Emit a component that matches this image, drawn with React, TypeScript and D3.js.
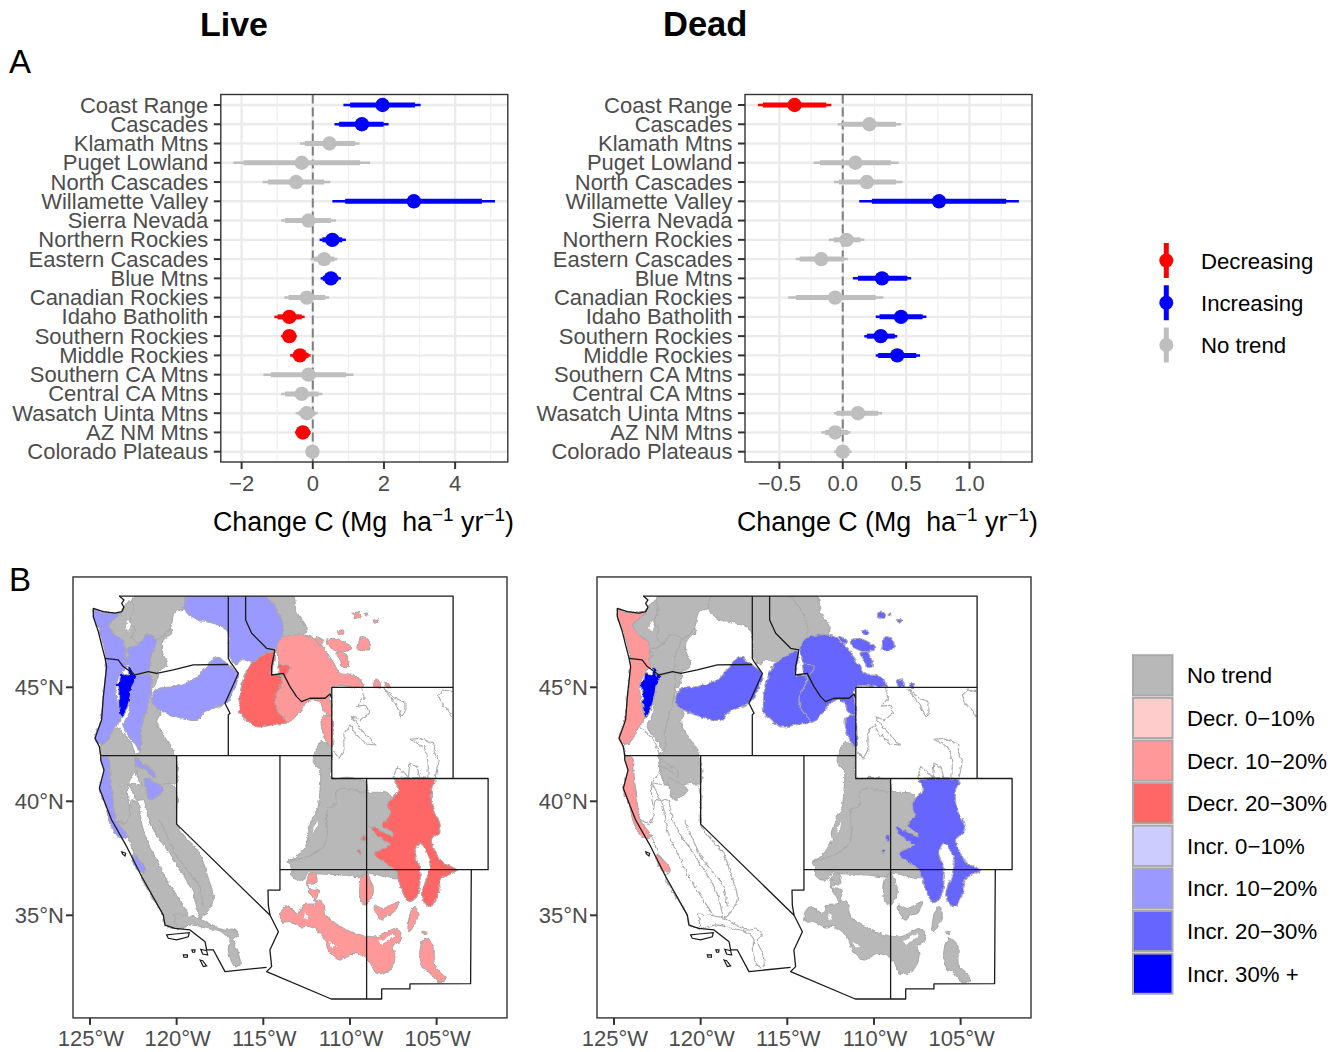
import * as d3 from "d3";

type Ring = [number, number][];
type Row = [number, number, number, number, number] | null;

const regionNames = ["Coast Range", "Cascades", "Klamath Mtns", "Puget Lowland", "North Cascades", "Willamette Valley", "Sierra Nevada", "Northern Rockies", "Eastern Cascades", "Blue Mtns", "Canadian Rockies", "Idaho Batholith", "Southern Rockies", "Middle Rockies", "Southern CA Mtns", "Central CA Mtns", "Wasatch Uinta Mtns", "AZ NM Mtns", "Colorado Plateaus"];

// outer low, inner low, mean, inner high, outer high
const liveRows: Row[] = [
  [0.86, 1.05, 1.96, 2.87, 3.03],
  [0.61, 0.74, 1.38, 1.99, 2.13],
  [-0.36, -0.22, 0.47, 1.19, 1.31],
  [-2.23, -1.95, -0.31, 1.33, 1.61],
  [-1.41, -1.26, -0.47, 0.32, 0.49],
  [0.55, 0.91, 2.84, 4.75, 5.12],
  [-0.89, -0.78, -0.12, 0.51, 0.65],
  [0.19, 0.27, 0.55, 0.83, 0.93],
  [-0.06, 0.04, 0.32, 0.61, 0.69],
  [0.22, 0.28, 0.51, 0.72, 0.79],
  [-0.8, -0.68, -0.17, 0.35, 0.46],
  [-1.08, -0.99, -0.66, -0.31, -0.23],
  [-0.89, -0.84, -0.66, -0.5, -0.45],
  [-0.64, -0.56, -0.36, -0.12, -0.06],
  [-1.39, -1.18, -0.12, 0.94, 1.14],
  [-0.89, -0.78, -0.31, 0.16, 0.27],
  [-0.48, -0.4, -0.17, 0.07, 0.14],
  [-0.5, -0.45, -0.28, -0.09, -0.06],
  [-0.19, -0.17, -0.01, 0.16, 0.18],
];
const liveTrends = ["inc", "inc", "none", "none", "none", "inc", "none", "inc", "none", "inc", "none", "dec", "dec", "dec", "none", "none", "none", "dec", "none"];

const deadRows: Row[] = [
  [-0.67, -0.63, -0.38, -0.13, -0.09],
  [-0.04, 0, 0.21, 0.42, 0.46],
  null,
  [-0.23, -0.18, 0.1, 0.38, 0.44],
  [-0.07, -0.03, 0.19, 0.42, 0.47],
  [0.13, 0.23, 0.76, 1.29, 1.39],
  null,
  [-0.11, -0.07, 0.03, 0.14, 0.17],
  [-0.37, -0.34, -0.17, 0.01, 0.04],
  [0.08, 0.12, 0.31, 0.51, 0.54],
  [-0.43, -0.37, -0.06, 0.26, 0.32],
  [0.26, 0.29, 0.46, 0.63, 0.66],
  [0.17, 0.19, 0.3, 0.41, 0.43],
  [0.26, 0.28, 0.43, 0.58, 0.61],
  null,
  null,
  [-0.07, -0.05, 0.12, 0.28, 0.31],
  [-0.17, -0.14, -0.06, 0.04, 0.06],
  [-0.07, -0.05, 0, 0.05, 0.07],
];
const deadTrends = ["dec", "none", "none", "none", "none", "inc", "none", "none", "none", "inc", "none", "inc", "inc", "inc", "none", "none", "none", "none", "none"];

const trendColors: Record<string, string> = { dec: "#ff0000", inc: "#0000ff", none: "#bebebe" };
const trendLegend = [["dec", "Decreasing"], ["inc", "Increasing"], ["none", "No trend"]];

const classColors: Record<string, string> = {
  none: "#b8b8b8", d10: "#ffcccc", d20: "#ff9999", d30: "#ff6666",
  i10: "#ccccff", i20: "#9999ff", i30: "#6666ff", i40: "#0000ff", blank: "#ffffff",
};
const classLegend = [["none", "No trend"], ["d10", "Decr. 0\u221210%"], ["d20", "Decr. 10\u221220%"], ["d30", "Decr. 20\u221230%"], ["i10", "Incr. 0\u221210%"], ["i20", "Incr. 10\u221220%"], ["i30", "Incr. 20\u221230%"], ["i40", "Incr. 30% +"]];

// ecoregion outlines, lon/lat
const coastRange: Ring[] = [
  [[-124.81, 48.42], [-124.13, 48.27], [-123.21, 48.25], [-123.65, 47.98], [-123.88, 47.73], [-123.5, 47.25], [-123.08, 47.05], [-122.96, 46.23], [-122.88, 45.91], [-123.17, 45.69], [-123.5, 45.03], [-123.31, 43.86], [-123.23, 43.57], [-123.56, 43.27], [-124.04, 42.62], [-124.33, 42.51], [-124.71, 42.76], [-124.42, 43.42], [-124.23, 44.59], [-124.08, 46.27], [-124.46, 47.44], [-124.81, 48.1]],
  [[-124.38, 41.93], [-123.94, 41.89], [-123.85, 41.08], [-123.69, 40.2], [-123.5, 39.18], [-122.83, 38.45], [-123.21, 38.37], [-123.85, 39.03], [-124.13, 39.91], [-124.46, 40.5], [-124.33, 40.93], [-124.19, 41.37]],
  [[-122.54, 37.65], [-122.25, 37.5], [-121.77, 36.99], [-122.06, 36.91], [-122.44, 37.2]],
];
const cascades: Ring[] = [
  [[-122.88, 46.64], [-122.21, 46.86], [-121.69, 47.3], [-121.15, 47.11], [-121.5, 46.32], [-121.63, 45.69], [-122.35, 45.54], [-122.65, 45.88], [-123.04, 46.17], [-122.73, 46.42]],
  [[-122.35, 45.5], [-121.54, 45.58], [-121.63, 44.3], [-122.02, 43.27], [-122.11, 42.18], [-122.4, 42.54], [-123.08, 43.27], [-122.79, 43.79], [-122.6, 45.1]],
  [[-122.4, 41.89], [-122.11, 41.74], [-121.31, 41.3], [-121.25, 41.01], [-121.77, 41.37], [-122.27, 41.52]],
  [[-121.83, 41.01], [-121.35, 40.86], [-120.77, 40.5], [-121.54, 40.06], [-121.77, 40.5]],
];
const klamath: Ring[] = [[[-123.56, 43.27], [-123.08, 42.98], [-122.6, 42.54], [-122.4, 42.03], [-122.35, 41.37], [-122.79, 40.79], [-122.83, 40.2], [-122.69, 39.18], [-122.98, 39.03], [-123.5, 39.18], [-123.69, 40.2], [-123.85, 41.08], [-123.94, 41.89], [-124.38, 42.03], [-124.33, 42.51], [-124.04, 42.62]]];
const pugetLowland: Ring[] = [[[-123.08, 48.51], [-122.6, 48.76], [-122.46, 48.39], [-122.69, 47.88], [-122.4, 47.51], [-122.6, 47.22], [-122.21, 46.86], [-122.88, 46.64], [-122.73, 46.42], [-123.04, 46.17], [-122.96, 46.23], [-123.08, 47.05], [-123.5, 47.25], [-123.88, 47.73], [-123.65, 47.98], [-123.21, 48.25]]];
const northCascades: Ring[] = [[[-122.35, 49.05], [-119.42, 49.05], [-119.58, 48.46], [-120.1, 48.32], [-120.38, 47.59], [-121.15, 47.11], [-121.69, 47.3], [-122.21, 46.86], [-122.6, 47.22], [-122.4, 47.51], [-122.69, 47.88], [-122.46, 48.39], [-122.6, 48.76]]];
const willamette: Ring[] = [[[-122.79, 45.88], [-122.54, 45.79], [-122.5, 45.54], [-122.31, 45.5], [-122.54, 45.1], [-122.75, 44.37], [-122.98, 43.86], [-123.17, 43.67], [-123.31, 43.93], [-123.35, 44.59], [-123.37, 45.0], [-123.56, 45.06], [-123.31, 45.25], [-123.17, 45.64], [-122.79, 45.54]]];
const sierraNevada: Ring[] = [[[-122.79, 40.79], [-121.96, 40.71], [-120.42, 40.79], [-120.0, 40.35], [-120.0, 38.96], [-119.52, 38.45], [-118.69, 37.72], [-118.27, 36.84], [-117.88, 35.82], [-117.98, 35.45], [-118.65, 34.87], [-118.75, 35.09], [-119.13, 36.11], [-120.29, 37.57], [-121.54, 39.03], [-121.92, 40.06], [-122.27, 40.06], [-122.69, 40.65]]];
const northernRockies: Ring[] = [[[-119.33, 49.05], [-115.0, 49.05], [-113.94, 47.95], [-113.85, 47.22], [-114.23, 46.71], [-115.0, 46.42], [-115.58, 46.08], [-116.25, 46.23], [-116.58, 45.98], [-116.92, 46.32], [-117.11, 47.51], [-118.27, 47.88], [-118.85, 47.95], [-119.52, 48.42]]];
const easternCascades: Ring[] = [
  [[-120.38, 47.59], [-120.29, 47.37], [-120.77, 47.08], [-120.87, 46.64], [-120.58, 45.98], [-121.06, 45.69], [-121.63, 45.69], [-121.5, 46.32], [-121.15, 47.11]],
  [[-121.54, 45.58], [-121.06, 45.61], [-121.25, 45.1], [-121.44, 44.88], [-121.44, 44.37], [-121.15, 44.08], [-120.96, 43.86], [-121.15, 43.49], [-120.77, 42.91], [-120.1, 42.03], [-120.0, 40.79], [-120.42, 40.79], [-121.96, 40.71], [-122.27, 41.08], [-122.35, 41.37], [-122.4, 42.03], [-122.11, 42.18], [-122.02, 43.27], [-121.63, 44.3]],
];
const blueMtns: Ring[] = [[[-121.25, 44.88], [-120.19, 45.03], [-118.94, 45.39], [-118.46, 45.76], [-117.73, 46.32], [-117.02, 45.98], [-116.54, 45.69], [-116.44, 45.54], [-116.92, 44.52], [-117.21, 44.3], [-118.46, 43.86], [-118.75, 43.57], [-119.33, 43.57], [-120.0, 43.71], [-120.58, 43.86], [-121.15, 44.08], [-121.44, 44.37]]];
const canadianRockies: Ring[] = [[[-114.96, 49.05], [-113.31, 49.05], [-113.08, 48.32], [-112.54, 47.66], [-112.65, 47.3], [-113.37, 47.15], [-113.94, 47.15], [-113.94, 47.95]]];
const idahoBatholith: Ring[] = [
  [[-116.25, 45.1], [-115.77, 45.98], [-115.0, 46.42], [-114.42, 46.61], [-114.42, 45.91], [-114.52, 45.54], [-114.04, 45.54], [-113.88, 45.32], [-114.33, 44.52], [-114.23, 44.08], [-113.65, 43.45], [-114.23, 43.39], [-115.38, 43.27], [-116.06, 43.64], [-116.35, 43.86]],
  [[-114.13, 45.98], [-113.46, 45.91], [-113.65, 45.61], [-114.04, 45.58]],
];
const southernRockies: Ring[] = [
  [[-107.4, 40.91], [-105.1, 40.91], [-105.29, 40.5], [-105.19, 39.62], [-104.81, 39.03], [-104.81, 38.67], [-105.29, 38.3], [-105.0, 37.72], [-104.61, 37.28], [-103.85, 36.99], [-104.81, 36.55], [-104.81, 36.11], [-105.38, 35.38], [-105.86, 35.82], [-105.48, 36.84], [-105.38, 37.43], [-105.96, 38.16], [-106.25, 37.72], [-105.96, 36.99], [-106.15, 35.82], [-106.63, 35.6], [-107.21, 36.55], [-107.4, 36.99], [-108.36, 37.5], [-108.56, 37.72], [-107.69, 38.08], [-107.98, 38.23], [-108.56, 38.6], [-108.75, 38.86], [-107.92, 38.6], [-107.5, 38.45], [-107.5, 38.6], [-108.11, 38.96], [-107.69, 39.33], [-107.79, 39.91], [-107.5, 40.2], [-107.15, 40.5]],
  [[-109.33, 38.45], [-109.13, 38.52], [-109.1, 38.3], [-109.27, 38.27]],
  [[-109.52, 37.87], [-109.33, 37.84], [-109.37, 37.72], [-109.52, 37.75]],
];
const middleRockies: Ring[] = [
  [[-113.94, 47.15], [-112.69, 47.3], [-112.12, 47.15], [-111.25, 46.42], [-110.87, 45.98], [-110.58, 45.61], [-109.81, 45.54], [-109.23, 45.03], [-111.06, 45.0], [-111.06, 43.71], [-111.54, 44.0], [-111.73, 44.37], [-112.4, 44.37], [-112.88, 43.93], [-113.65, 43.45], [-114.23, 44.08], [-114.33, 44.52], [-113.88, 45.32], [-114.04, 45.98], [-114.23, 46.71]],
  [[-109.81, 48.25], [-109.42, 48.27], [-109.33, 48.13], [-109.71, 48.03]],
  [[-109.19, 48.22], [-109.0, 48.25], [-109.04, 48.14]],
  [[-108.65, 47.95], [-108.37, 47.95], [-108.56, 47.81]],
  [[-110.73, 47.44], [-110.38, 47.51], [-110.38, 47.34], [-110.62, 47.34]],
  [[-112.02, 47.22], [-111.63, 47.11], [-111.54, 46.93], [-111.83, 46.9]],
  [[-111.31, 47.08], [-110.67, 47.11], [-109.9, 46.71], [-110.58, 46.56], [-111.31, 46.86]],
  [[-109.52, 46.86], [-109.33, 47.22], [-108.94, 47.08], [-108.85, 46.71], [-109.52, 46.64]],
  [[-110.81, 46.49], [-110.38, 46.56], [-110.1, 45.91], [-110.38, 45.88], [-110.58, 46.2]],
  [[-108.65, 45.25], [-108.37, 45.32], [-108.23, 45.03], [-108.56, 45.0]],
  [[-107.98, 45.2], [-107.79, 45.17], [-107.69, 45.0], [-107.88, 45.0]],
  [[-111.63, 43.64], [-111.15, 43.79], [-111.06, 42.4], [-111.44, 42.76], [-111.63, 43.2]],
];
const southernCA: Ring[] = [[[-120.19, 35.05], [-119.23, 34.97], [-118.65, 34.87], [-118.17, 34.65], [-117.31, 34.36], [-116.73, 34.39], [-116.44, 34.14], [-116.73, 33.92], [-116.44, 33.33], [-116.35, 32.82], [-116.63, 32.75], [-117.02, 33.48], [-116.92, 33.92], [-117.4, 34.28], [-118.27, 34.43], [-119.13, 34.58], [-120.0, 34.43], [-120.1, 34.94]]];
const centralCA: Ring[] = [[[-122.83, 38.45], [-122.4, 37.65], [-121.77, 36.99], [-122.02, 36.7], [-120.77, 35.01], [-120.67, 34.57], [-120.0, 34.43], [-120.1, 34.94], [-119.33, 34.94], [-119.9, 35.74], [-120.58, 36.55], [-121.15, 37.43], [-121.73, 38.3], [-122.02, 39.03], [-122.27, 39.98], [-122.6, 40.06], [-122.79, 39.18], [-122.98, 39.03], [-123.46, 39.15]]];
const wasatchUinta: Ring[] = [[[-111.63, 42.62], [-111.1, 42.32], [-111.06, 41.01], [-110.19, 41.05], [-109.13, 40.9], [-109.04, 40.42], [-110.38, 40.57], [-110.81, 40.42], [-110.77, 39.91], [-111.31, 39.62], [-111.35, 38.3], [-111.92, 37.79], [-113.27, 37.4], [-113.56, 37.35], [-113.17, 37.5], [-112.4, 38.3], [-112.46, 38.6], [-112.12, 39.33], [-111.88, 39.62], [-111.73, 40.5], [-111.73, 41.37], [-112.12, 41.74]]];
const azNmMtns: Ring[] = [
  [[-112.31, 36.84], [-112.02, 36.84], [-111.92, 36.42], [-112.4, 36.33], [-112.4, 36.18], [-111.83, 36.11], [-111.92, 35.67], [-111.54, 35.53], [-111.35, 34.94], [-110.67, 34.57], [-109.71, 34.21], [-108.46, 34.06], [-107.31, 34.43], [-107.02, 34.06], [-107.12, 33.84], [-107.5, 33.7], [-107.4, 33.18], [-107.69, 32.6], [-108.46, 32.46], [-108.94, 33.04], [-109.81, 33.33], [-110.58, 33.04], [-111.25, 33.48], [-111.54, 34.06], [-112.31, 34.5], [-112.88, 34.5], [-113.46, 34.72], [-113.94, 34.72], [-114.0, 35.09], [-113.65, 35.38], [-112.98, 35.09], [-112.69, 35.45], [-112.02, 35.53], [-112.21, 35.89], [-112.5, 36.33]],
  [[-109.33, 36.62], [-109.08, 36.84], [-108.65, 36.04], [-109.13, 35.45], [-109.42, 35.82]],
  [[-108.56, 35.45], [-108.08, 35.3], [-107.21, 35.6], [-107.5, 35.09], [-107.88, 35.01], [-108.17, 34.79], [-108.56, 35.16]],
  [[-106.25, 35.38], [-106.06, 35.09], [-106.35, 34.5], [-106.63, 34.28], [-106.54, 35.01]],
  [[-105.86, 34.28], [-105.62, 34.28], [-105.73, 34.14]],
  [[-105.67, 33.99], [-105.19, 33.7], [-105.1, 32.75], [-104.42, 32.24], [-104.81, 32.05], [-105.38, 32.46], [-105.86, 32.75], [-105.96, 33.48]],
];
const coloradoPlateaus: Ring[] = [[[-110.38, 40.57], [-109.13, 40.5], [-109.04, 40.42], [-107.88, 40.35], [-107.5, 40.06], [-107.6, 39.91], [-107.4, 39.33], [-107.3, 38.5], [-107.4, 38.1], [-108.3, 37.72], [-108.2, 37.5], [-107.4, 36.99], [-107.21, 36.62], [-109.04, 36.84], [-109.33, 36.7], [-110.38, 36.77], [-112.02, 36.84], [-112.4, 36.91], [-112.69, 36.55], [-113.36, 36.69], [-113.36, 37.06], [-113.56, 37.35], [-111.92, 37.79], [-111.35, 38.3], [-111.31, 39.62], [-110.81, 39.91], [-110.81, 40.42]]];

// ring, live class, dead class (order is paint order)
const mapRegions: [Ring[], string, string][] = [
  [coloradoPlateaus, "none", "none"],
  [wasatchUinta, "none", "none"],
  [klamath, "none", "blank"],
  [sierraNevada, "none", "blank"],
  [centralCA, "none", "blank"],
  [southernCA, "none", "blank"],
  [easternCascades, "none", "none"],
  [northCascades, "none", "none"],
  [pugetLowland, "none", "none"],
  [canadianRockies, "none", "none"],
  [northernRockies, "i20", "none"],
  [cascades, "i20", "none"],
  [coastRange, "i20", "d20"],
  [blueMtns, "i20", "i30"],
  [middleRockies, "d20", "i30"],
  [idahoBatholith, "d30", "i30"],
  [southernRockies, "d30", "i30"],
  [azNmMtns, "d20", "none"],
  [willamette, "i40", "i40"],
];

const waterHoles: Ring[] = [
  [[-122.79, 47.95], [-122.65, 47.73], [-122.79, 47.44], [-122.98, 47.59]],
  [[-111.83, 39.18], [-111.96, 38.81], [-112.15, 38.6], [-112.08, 38.88]],
  [[-112.6, 35.16], [-112.4, 34.79], [-112.65, 34.87]],
  [[-111.25, 33.84], [-110.77, 33.62], [-111.06, 33.59]],
  [[-108.37, 33.84], [-107.5, 34.21], [-107.4, 34.06], [-108.17, 33.73]],
];

// grey outlines with no fill in Wyoming and the Sierra
const greyLines: Ring[] = [
  [[-109.33, 44.96], [-109.19, 44.52], [-109.58, 44.18], [-109.08, 44.22], [-108.88, 43.86], [-109.42, 43.57], [-109.9, 43.71], [-109.42, 43.2], [-108.52, 42.47], [-109.04, 42.51], [-109.71, 42.98], [-110.0, 43.35], [-110.35, 42.98], [-110.35, 42.25], [-110.62, 41.89], [-110.96, 42.18]],
  [[-108.08, 44.96], [-107.4, 44.52], [-106.83, 44.37], [-106.83, 43.93], [-107.02, 43.71], [-107.4, 44.3], [-107.98, 44.85], [-108.08, 44.96]],
  [[-104.08, 44.81], [-104.61, 44.88], [-104.9, 44.66], [-104.71, 44.3], [-104.33, 44.0], [-104.08, 43.71]],
  [[-106.54, 42.72], [-105.96, 42.76], [-105.48, 42.62], [-105.1, 42.47], [-105.15, 42.18], [-104.9, 41.81], [-105.0, 41.37], [-105.1, 40.94]],
  [[-106.54, 42.72], [-105.77, 42.4], [-105.58, 42.18], [-105.48, 41.52], [-105.52, 40.91]],
  [[-107.5, 40.94], [-107.31, 41.52], [-106.92, 41.3], [-106.63, 41.05], [-106.35, 40.94]],
  [[-106.63, 41.05], [-106.54, 41.67], [-106.15, 41.52], [-105.96, 41.01], [-106.25, 41.01]],
  [[-120.96, 39.18], [-120.0, 37.57], [-118.65, 36.26], [-118.46, 35.38]],
];

// state lines
const borderLines: Ring[] = [
  [[-123.31, 49], [-123.04, 48.83], [-123.17, 48.68], [-123.04, 48.51], [-123.17, 48.32], [-123.56, 48.25], [-124.23, 48.32], [-124.81, 48.46], [-124.81, 48.1], [-124.52, 47.44], [-124.33, 46.86], [-124.13, 46.27], [-124.04, 45.91], [-124.23, 44.59], [-124.33, 43.57], [-124.71, 42.76], [-124.46, 42.4], [-124.38, 42.0], [-124.38, 41.81], [-124.19, 41.37], [-124.46, 40.57], [-124.13, 39.91], [-123.75, 39.18], [-122.88, 38.01], [-122.02, 36.7], [-120.77, 35.01], [-120.67, 34.57], [-120.1, 34.43], [-119.23, 34.36], [-118.36, 33.84], [-118.27, 33.48], [-117.88, 33.48], [-117.21, 32.53], [-114.81, 32.72]],
  [[-123.31, 49], [-104.05, 49], [-104.05, 45]],
  [[-124.13, 46.27], [-123.37, 46.2], [-123.08, 45.91], [-122.4, 45.54], [-121.63, 45.69], [-121.15, 45.61], [-120.19, 45.76], [-119.04, 45.98], [-117.02, 46.0]],
  [[-117.02, 49], [-117.02, 46.27], [-116.92, 46.13], [-116.44, 45.61], [-117.21, 44.3], [-116.92, 43.86], [-117.02, 43.8], [-117.02, 42]],
  [[-116.02, 49], [-116.02, 47.95], [-115.67, 47.37], [-114.81, 46.71], [-114.33, 46.64], [-114.52, 45.91], [-114.52, 45.54], [-113.85, 45.61], [-113.46, 45.03], [-113.08, 44.59], [-112.79, 44.37], [-112.31, 44.52], [-111.44, 44.52], [-111.15, 44.71], [-111.05, 44.52]],
  [[-111.05, 45], [-104.05, 45], [-104.05, 41], [-111.05, 41], [-111.05, 45]],
  [[-124.38, 42], [-111.05, 42]],
  [[-120, 42], [-120, 39], [-114.61, 35]],
  [[-114.04, 42], [-114.04, 36.11], [-114.73, 36.1], [-114.71, 35.45], [-114.61, 35], [-114.42, 34.72], [-114.13, 34.28], [-114.62, 33.48], [-114.52, 32.75], [-114.81, 32.53], [-111.08, 31.33], [-108.17, 31.33], [-108.17, 31.77], [-106.54, 31.77], [-106.54, 31.99], [-103.04, 32], [-103, 37]],
  [[-109.04, 41], [-109.04, 31.33]],
  [[-114.04, 37], [-102.03, 37], [-102.03, 41], [-104.05, 41]],
];
const islands: Ring[] = [
  [[-123.17, 37.79], [-122.94, 37.72], [-122.98, 37.6], [-123.13, 37.69]],
  [[-120.58, 34.14], [-120.1, 34.18], [-119.27, 34.24], [-119.33, 34.06], [-120.0, 33.92], [-120.48, 33.99]],
  [[-119.62, 33.26], [-119.38, 33.26], [-119.38, 33.16], [-119.58, 33.16]],
  [[-119.12, 33.48], [-118.94, 33.48], [-118.96, 33.38], [-119.08, 33.38]],
  [[-118.61, 33.51], [-118.27, 33.45], [-118.21, 33.26], [-118.5, 33.3]],
  [[-118.65, 33.04], [-118.5, 33.01], [-118.27, 32.78], [-118.46, 32.75]],
];

const lonTicks = [-125, -120, -115, -110, -105];
const latTicks = [45, 40, 35];
const liveTicks = [-2, 0, 2, 4];
const liveMinor = [-1, 1, 3, 5];
const deadTicks = [-0.5, 0, 0.5, 1];
const deadMinor = [-0.25, 0.25, 0.75, 1.25];

const FONT = "'Liberation Sans', Arial, sans-serif";
const TICK = "#4d4d4d";
const BORDER = "#333333";

function ChangeTitle({ x, y }: { x: number; y: number }) {
  return (
    <text x={x} y={y} fontSize={26.8} fontFamily={FONT} fill="#000" style={{ whiteSpace: "pre" }}>
      {"Change C (Mg  ha"}
      <tspan dy={-10} fontSize={19}>{"\u22121"}</tspan>
      <tspan dy={10}>{" yr"}</tspan>
      <tspan dy={-10} fontSize={19}>{"\u22121"}</tspan>
      <tspan dy={10}>{")"}</tspan>
    </text>
  );
}

function EstimatePanel({ rows, trends, left, domain, ticks, minor, format }: { rows: Row[]; trends: string[]; left: number; domain: [number, number]; ticks: number[]; minor: number[]; format: (d: number) => string }) {
  const width = 287;
  const top = 94.5;
  const bottom = 462;
  const x = d3.scaleLinear().domain(domain).range([left, left + width]);
  const y = d3.scalePoint().domain(regionNames).range([105, 451.7]);
  return (
    <g fontFamily={FONT}>
      {minor.map((t) => x(t) < left + width && <line key={t} x1={x(t)} x2={x(t)} y1={top} y2={bottom} stroke="#f0f0f0" strokeWidth={1.2} />)}
      {ticks.map((t) => <line key={t} x1={x(t)} x2={x(t)} y1={top} y2={bottom} stroke="#ebebeb" strokeWidth={2.4} />)}
      {regionNames.map((n) => <line key={n} x1={left} x2={left + width} y1={y(n)} y2={y(n)} stroke="#ebebeb" strokeWidth={2.4} />)}
      <line x1={x(0)} x2={x(0)} y1={top} y2={bottom} stroke="#7f7f7f" strokeWidth={2} strokeDasharray="9 4" />
      {rows.map((r, i) => {
        if (!r) return null;
        const cy = y(regionNames[i]) as number;
        const c = trendColors[trends[i]];
        return (
          <g key={i}>
            <line x1={x(r[0])} x2={x(r[4])} y1={cy} y2={cy} stroke={c} strokeWidth={2.5} />
            <line x1={x(r[1])} x2={x(r[3])} y1={cy} y2={cy} stroke={c} strokeWidth={5} />
            <circle cx={x(r[2])} cy={cy} r={7.2} fill={c} />
          </g>
        );
      })}
      <rect x={left} y={top} width={width} height={bottom - top} fill="none" stroke={BORDER} strokeWidth={1.4} />
      {regionNames.map((n) => (
        <g key={n}>
          <line x1={left - 7} x2={left} y1={y(n)} y2={y(n)} stroke={BORDER} strokeWidth={2} />
          <text x={left - 12.5} y={(y(n) as number) + 7.5} textAnchor="end" fontSize={22} fill={TICK}>{n}</text>
        </g>
      ))}
      {ticks.map((t) => (
        <g key={t}>
          <line x1={x(t)} x2={x(t)} y1={bottom} y2={bottom + 7} stroke={BORDER} strokeWidth={2} />
          <text x={x(t)} y={491} textAnchor="middle" fontSize={22} fill={TICK}>{format(t)}</text>
        </g>
      ))}
    </g>
  );
}

function MapPanel({ left, layer }: { left: number; layer: 1 | 2 }) {
  const x = d3.scaleLinear().domain([-125.98, -100.94]).range([left, left + 434]);
  const y = d3.scaleLinear().domain([45, 40]).range([687.3, 801.3]);
  const line = d3.line<[number, number]>().x((d) => x(d[0])).y((d) => y(d[1]));
  const blob = d3.line<[number, number]>().x((d) => x(d[0])).y((d) => y(d[1])).curve(d3.curveCatmullRomClosed.alpha(0.5));
  const closed = (r: Ring) => line(r) + "Z";
  const top = y(49.84);
  const bottom = y(30.5);
  const clipId = `north-${layer}`;
  return (
    <g fontFamily={FONT}>
      <defs>
        <clipPath id={clipId}>
          <rect x={left} y={y(49)} width={434} height={bottom - y(49)} />
        </clipPath>
        <filter id={`rough-${layer}`} x="-5%" y="-5%" width="110%" height="110%">
          <feTurbulence type="fractalNoise" baseFrequency={0.22} numOctaves={2} seed={4} />
          <feDisplacementMap in="SourceGraphic" scale={4} xChannelSelector="R" yChannelSelector="G" />
        </filter>
      </defs>
      <g clipPath={`url(#${clipId})`}>
        <g filter={`url(#rough-${layer})`}>
          {mapRegions.map((m, i) => (
            <path key={i} d={m[0].map((r) => blob(r)).join("")} fill={classColors[m[layer]]} stroke="#a9a9a9" strokeWidth={1.1} strokeLinejoin="round" />
          ))}
          {waterHoles.map((r, i) => <path key={i} d={closed(r)} fill="#fff" />)}
          {greyLines.map((r, i) => <path key={i} d={line(r) as string} fill="none" stroke="#a9a9a9" strokeWidth={1.1} />)}
        </g>
      </g>
      {borderLines.map((r, i) => <path key={i} d={line(r) as string} fill="none" stroke="#1a1a1a" strokeWidth={1.3} strokeLinejoin="round" />)}
      {islands.map((r, i) => <path key={i} d={closed(r)} fill="#fff" stroke="#1a1a1a" strokeWidth={1.2} />)}
      <rect x={left} y={top} width={434} height={bottom - top} fill="none" stroke={BORDER} strokeWidth={1.4} />
      {latTicks.map((t) => (
        <g key={t}>
          <line x1={left - 7} x2={left} y1={y(t)} y2={y(t)} stroke={BORDER} strokeWidth={2} />
          <text x={left - 9} y={y(t) + 7.5} textAnchor="end" fontSize={22} fill={TICK}>{t + "\u00b0N"}</text>
        </g>
      ))}
      {lonTicks.map((t) => (
        <g key={t}>
          <line x1={x(t)} x2={x(t)} y1={bottom} y2={bottom + 7} stroke={BORDER} strokeWidth={2} />
          <text x={x(t) + 1} y={1046} textAnchor="middle" fontSize={22} fill={TICK}>{Math.abs(t) + "\u00b0W"}</text>
        </g>
      ))}
    </g>
  );
}

export default function App() {
  const trendY = d3.scalePoint().domain(trendLegend.map((d) => d[0])).range([260.5, 345]);
  const classY = d3.scaleBand().domain(classLegend.map((d) => d[0])).range([654, 995]);
  const minusFormat = (d: number) => d3.format(".0f")(d).replace("-", "\u2212");
  const deadFormat = (d: number) => d3.format(".1f")(d).replace("-", "\u2212");
  return (
    <svg width={1341} height={1052} style={{ position: "absolute", left: 0, top: 0, background: "#fff" }}>
      <g fontFamily={FONT} fill="#000">
        <text x={200} y={36} fontSize={34} fontWeight="bold">Live</text>
        <text x={663} y={36} fontSize={34.5} fontWeight="bold">Dead</text>
        <text x={9} y={73} fontSize={33}>A</text>
        <text x={9} y={591} fontSize={33}>B</text>
      </g>
      <EstimatePanel rows={liveRows} trends={liveTrends} left={220.8} domain={[-2.585, 5.48]} ticks={liveTicks} minor={liveMinor} format={minusFormat} />
      <EstimatePanel rows={deadRows} trends={deadTrends} left={745} domain={[-0.7715, 1.4935]} ticks={deadTicks} minor={deadMinor} format={deadFormat} />
      <ChangeTitle x={213} y={531} />
      <ChangeTitle x={737} y={531} />
      <MapPanel left={73} layer={1} />
      <MapPanel left={597} layer={2} />
      <g fontFamily={FONT} fontSize={22.2} fill="#000">
        {trendLegend.map(([k, label]) => {
          const cy = trendY(k) as number;
          return (
            <g key={k}>
              <line x1={1166.3} x2={1166.3} y1={cy - 17.5} y2={cy + 17.5} stroke={trendColors[k]} strokeWidth={5} />
              <circle cx={1166.3} cy={cy} r={7} fill={trendColors[k]} />
              <text x={1201} y={cy + 8}>{label}</text>
            </g>
          );
        })}
        {classLegend.map(([k, label]) => {
          const by = classY(k) as number;
          const h = classY.bandwidth();
          return (
            <g key={k}>
              <rect x={1133} y={by + 1.2} width={39.5} height={h - 2.4} fill={classColors[k]} stroke="#a9a9a9" strokeWidth={2} />
              <text x={1187} y={by + h / 2 + 8}>{label}</text>
            </g>
          );
        })}
      </g>
    </svg>
  );
}
